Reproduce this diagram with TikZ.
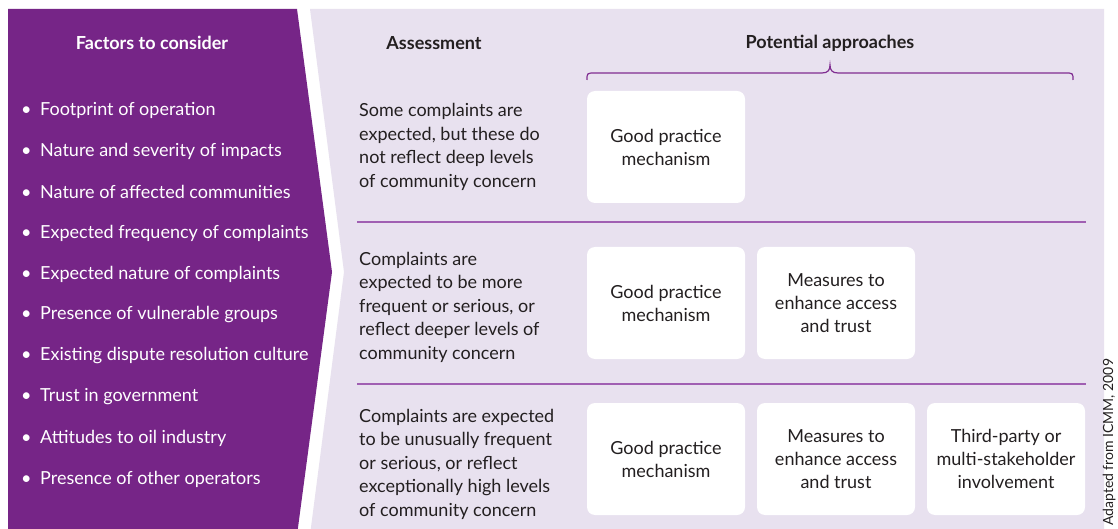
\documentclass[tikz,border=0pt]{standalone}
\usepackage{fontspec}
\setmainfont{Lato}

\definecolor{icmmpurple}{RGB}{118,37,135}
\definecolor{lilac}{RGB}{232,225,239}
\definecolor{rulepurple}{RGB}{160,95,178}
\definecolor{bracepurple}{RGB}{128,45,145}
\definecolor{inkgrey}{RGB}{35,31,32}

\tikzset{
    factor/.style={anchor=west, inner sep=0pt, text=white, font=\fontsize{18}{22}\selectfont},
    heading/.style={inner sep=0pt, font=\fontsize{18}{22}\selectfont\bfseries},
    assess/.style={anchor=west, align=left, inner sep=0pt, text=inkgrey, font=\fontsize{18}{23.5}\selectfont},
    approach/.style={fill=white, rounded corners=8pt, minimum width=158pt, minimum height=112pt,
        align=center, inner sep=0pt, text=inkgrey, font=\fontsize{18}{23}\selectfont},
}

\begin{document}
\begin{tikzpicture}[x=1pt, y=-1pt]
            \useasboundingbox (0,0) rectangle (1118,529);
            \fill[white] (0,0) rectangle (1118,529);

            % the two panels
            \fill[icmmpurple] (8,9) -- (297,9) -- (332,272) -- (297,535) -- (8,535) -- cycle;
            \fill[lilac] (310,9) -- (1104,9) -- (1104,535) -- (310,535) -- (344,272) -- cycle;

            % headings
            \node[heading, text=white] (factors) at (152,43) {Factors to consider};
            \node[heading, text=inkgrey] (assessment) at (434,43) {Assessment};
            \node[heading, text=inkgrey] (approaches) at (830,43) {Potential approaches};

            % factors list
            \node[factor] (f1) at (21,110) {\makebox[19pt][l]{\textbullet}Footprint of operation};
            \node[factor] (f2) at (21,151) {\makebox[19pt][l]{\textbullet}Nature and severity of impacts};
            \node[factor] (f3) at (21,192) {\makebox[19pt][l]{\textbullet}Nature of affected communities};
            \node[factor] (f4) at (21,233) {\makebox[19pt][l]{\textbullet}Expected frequency of complaints};
            \node[factor] (f5) at (21,274) {\makebox[19pt][l]{\textbullet}Expected nature of complaints};
            \node[factor] (f6) at (21,315) {\makebox[19pt][l]{\textbullet}Presence of vulnerable groups};
            \node[factor] (f7) at (21,356) {\makebox[19pt][l]{\textbullet}Existing dispute resolution culture};
            \node[factor] (f8) at (21,397) {\makebox[19pt][l]{\textbullet}Trust in government};
            \node[factor] (f9) at (21,438) {\makebox[19pt][l]{\textbullet}Attitudes to oil industry};
            \node[factor] (f10) at (21,479) {\makebox[19pt][l]{\textbullet}Presence of other operators};

            % brace over the approaches
            \draw[bracepurple, line width=1.2pt] (587,80) .. controls (587,73) .. (595,73) -- (822,73)
                .. controls (828,73) and (830,70) .. (830,65)
                .. controls (830,70) and (832,73) .. (838,73) -- (1065,73)
                .. controls (1073,73) .. (1073,80);

            % row separators
            \draw[rulepurple, line width=1.8pt] (357,222) -- (1086,222);
            \draw[rulepurple, line width=1.8pt] (357,384) -- (1086,384);

            % assessments
            \node[assess] (a1) at (359,147) {Some complaints are\\expected, but these do\\not reflect deep levels\\of community concern};
            \node[assess] (a2) at (359,307) {Complaints are\\expected to be more\\frequent or serious, or\\reflect deeper levels of\\community concern};
            \node[assess] (a3) at (359,464) {Complaints are expected\\to be unusually frequent\\or serious, or reflect\\exceptionally high levels\\of community concern};

            % approaches
            \node[approach] (g1) at (666,147) {Good practice\\mechanism};
            \node[approach] (g2) at (666,303) {Good practice\\mechanism};
            \node[approach] (m2) at (836,303) {Measures to\\enhance access\\and trust};
            \node[approach] (g3) at (666,459) {Good practice\\mechanism};
            \node[approach] (m3) at (836,459) {Measures to\\enhance access\\and trust};
            \node[approach] (t3) at (1006,459) {Third-party or\\multi-stakeholder\\involvement};

            % source
            \node[rotate=90, anchor=base west, inner sep=0pt, text=inkgrey,
                font=\fontsize{14}{16}\selectfont] (credit) at (1113,526) {Adapted from ICMM, 2009};
\end{tikzpicture}
\end{document}
